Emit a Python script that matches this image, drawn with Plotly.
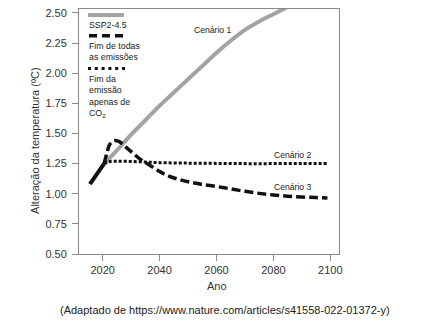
import plotly.graph_objects as go

# ---- data ----
hist_years = [2015.5, 2020.5]
hist_temp = [1.08, 1.25]

ssp_years = [2020.5, 2025, 2030, 2035, 2040, 2045, 2050, 2055, 2060, 2065, 2070, 2075, 2080, 2085]
ssp_temp = [1.25, 1.36, 1.49, 1.61, 1.73, 1.84, 1.95, 2.06, 2.17, 2.27, 2.36, 2.43, 2.49, 2.55]

all_years = [2020.5, 2021.5, 2022.5, 2024, 2026, 2028, 2030, 2033, 2036, 2040, 2043, 2047,
             2051, 2055, 2060, 2065, 2070, 2075, 2080, 2085, 2090, 2095, 2099]
all_temp = [1.25, 1.34, 1.41, 1.44, 1.43, 1.39, 1.35, 1.29, 1.245, 1.185, 1.148, 1.117,
            1.095, 1.077, 1.06, 1.04, 1.02, 1.003, 0.99, 0.98, 0.973, 0.968, 0.965]

co2_years = [2020.5, 2022, 2025, 2030, 2035, 2040, 2050, 2060, 2070, 2080, 2090, 2099]
co2_temp = [1.25, 1.265, 1.27, 1.268, 1.263, 1.258, 1.254, 1.252, 1.25, 1.25, 1.25, 1.25]

x_ticks = [2020, 2040, 2060, 2080, 2100]
y_ticks = [0.50, 0.75, 1.00, 1.25, 1.50, 1.75, 2.00, 2.25, 2.50]

legend_labels = ["SSP2-4.5", "Fim de todas<br>as emissões", "Fim da<br>emissão<br>apenas de<br>CO<sub>2</sub>"]
scenario_labels = ["Cenário 1", "Cenário 2", "Cenário 3"]

W, H = 425, 322
L, R, T, B = 79, 86, 7, 68
X0, X1 = 2011.67, 2103.06
Y0, Y1 = 0.50, 2.533

GRAY = "#a3a3a3"
BLACK = "#111111"
NARROW = "Liberation Sans Narrow, Arial Narrow, Liberation Sans, Arial, sans-serif"
SANS = "Liberation Sans, Arial, sans-serif"

fig = go.Figure()
fig.add_trace(go.Scatter(x=ssp_years, y=ssp_temp, mode="lines",
                         line=dict(color=GRAY, width=4, shape="spline"),
                         showlegend=False, hoverinfo="skip"))
fig.add_trace(go.Scatter(x=co2_years, y=co2_temp, mode="lines",
                         line=dict(color=BLACK, width=3, dash="3px,2px", shape="spline"),
                         showlegend=False, hoverinfo="skip"))
fig.add_trace(go.Scatter(x=all_years, y=all_temp, mode="lines",
                         line=dict(color=BLACK, width=3.5, dash="9px,4px", shape="spline"),
                         showlegend=False, hoverinfo="skip"))
fig.add_trace(go.Scatter(x=hist_years, y=hist_temp, mode="lines",
                         line=dict(color=BLACK, width=4), showlegend=False, hoverinfo="skip"))


def px_x(p):
    return (p - L) / (W - L - R)


def px_y(p):
    return (H - B - p) / (H - B - T)


# legend drawn inside the plot (line sample above each label)
fig.add_shape(type="line", xref="paper", yref="paper", x0=px_x(88), x1=px_x(124),
              y0=px_y(13), y1=px_y(13), line=dict(color=GRAY, width=4))
fig.add_shape(type="line", xref="paper", yref="paper", x0=px_x(89), x1=px_x(123),
              y0=px_y(34), y1=px_y(34), line=dict(color=BLACK, width=3.5, dash="8px,5px"))
fig.add_shape(type="line", xref="paper", yref="paper", x0=px_x(88), x1=px_x(125),
              y0=px_y(67), y1=px_y(67), line=dict(color=BLACK, width=3, dash="3px,3.8px"))

leg_pos = [16, 37, 71]
for lab, ytop in zip(legend_labels, leg_pos):
    fig.add_annotation(text=lab, xref="paper", yref="paper", x=px_x(87), y=px_y(ytop),
                       xanchor="left", yanchor="top", align="left", showarrow=False,
                       font=dict(family=NARROW, size=8.8, color="#222"))

scen_pos = [(2058.5, 2.36), (2086.8, 1.325), (2086.8, 1.055)]
for lab, (sx, sy) in zip(scenario_labels, scen_pos):
    fig.add_annotation(text=lab, x=sx, y=sy, showarrow=False,
                       xanchor="center", yanchor="middle",
                       font=dict(family=NARROW, size=8.6, color="#222"))

fig.add_annotation(text="Alteração da temperatura (ºC)", xref="paper", yref="paper",
                   x=px_x(35), y=px_y(140), textangle=-90, showarrow=False,
                   xanchor="center", yanchor="middle",
                   font=dict(family=SANS, size=11, color="#333"))
fig.add_annotation(text="Ano", xref="paper", yref="paper", x=px_x(216.5), y=px_y(286),
                   xanchor="center", yanchor="middle",
                   showarrow=False, font=dict(family=SANS, size=11, color="#333"))
fig.add_annotation(text="(Adaptado de https://www.nature.com/articles/s41558-022-01372-y)",
                   xref="paper", yref="paper", x=px_x(225), y=px_y(310), showarrow=False,
                   xanchor="center", yanchor="middle",
                   font=dict(family=SANS, size=11, color="#222"))

axis_common = dict(showline=True, linecolor="#8a8a8a", linewidth=1, mirror=True,
                   ticks="outside", ticklen=6, tickcolor="#8a8a8a", tickwidth=1,
                   showgrid=False, zeroline=False,
                   tickfont=dict(family=SANS, size=11, color="#333"))

fig.update_xaxes(range=[X0, X1], tickvals=x_ticks, ticktext=[str(v) for v in x_ticks],
                 **axis_common)
fig.update_yaxes(range=[Y0, Y1], tickvals=y_ticks, ticktext=[f"{v:.2f}" for v in y_ticks],
                 ticklabelstandoff=3, **axis_common)

fig.update_layout(width=W, height=H, margin=dict(l=L, r=R, t=T, b=B, pad=0),
                  plot_bgcolor="white", paper_bgcolor="white", showlegend=False)

fig.write_html("out.html")
